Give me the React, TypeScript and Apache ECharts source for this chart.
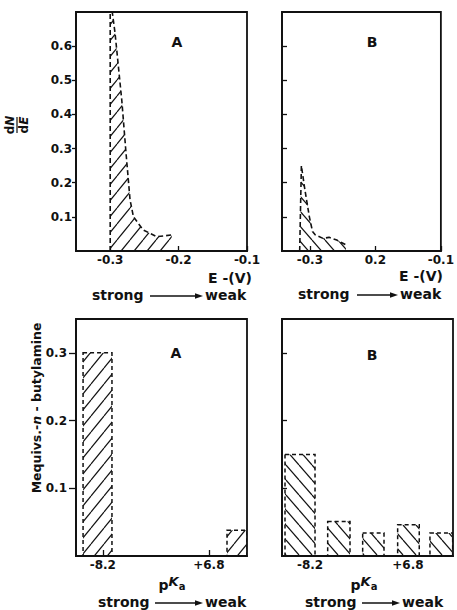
import React, { useEffect, useRef } from 'react';
import * as echarts from 'echarts';

// ---- Top panels: dN/dE versus E (V) ----
const topAE = [-0.3, -0.3, -0.297, -0.293, -0.288, -0.283, -0.277, -0.271, -0.266, -0.252, -0.232, -0.21];
const topAV = [0, 0.7, 0.7, 0.64, 0.54, 0.44, 0.29, 0.15, 0.1, 0.062, 0.042, 0.047];
const topBE = [-0.3156, -0.313, -0.3077, -0.3008, -0.296, -0.2916, -0.28, -0.2707, -0.259, -0.245];
const topBV = [0, 0.25, 0.18, 0.1, 0.057, 0.047, 0.037, 0.04, 0.032, 0.018];

const topXTicks = [-0.3, -0.2, -0.1];
const topATickLabels = ['-0.3', '-0.2', '-0.1'];
const topBTickLabels = ['-0.3', '0.2', '-0.1'];
const topYTicks = [0.1, 0.2, 0.3, 0.4, 0.5, 0.6];
const topYLabels = ['0.1', '0.2', '0.3', '0.4', '0.5', '0.6'];

// ---- Bottom panels: Mequivs n-butylamine versus pKa ----
const botABinStart = [-11.0, 9.37];
const botABinEnd = [-6.91, 12.2];
const botAValues = [0.3, 0.038];
const botBBinStart = [-12.04, -5.5, -0.14, 5.22, 10.17];
const botBBinEnd = [-7.44, -2.08, 3.13, 8.53, 13.65];
const botBValues = [0.15, 0.051, 0.034, 0.046, 0.034];

const botXTicks = [-8.2, 6.8];
const botXLabels = ['-8.2', '+6.8'];
const botYTicks = [0.1, 0.2, 0.3];
const botYLabels = ['0.1', '0.2', '0.3'];

const FONT = '"DejaVu Sans", sans-serif';
const INK = '#111';

function hatch(dir: number, w: number, h: number) {
  const c = document.createElement('canvas');
  c.width = w;
  c.height = h;
  const ctx = c.getContext('2d') as CanvasRenderingContext2D;
  ctx.strokeStyle = INK;
  ctx.lineWidth = 1.2;
  for (const off of [-w, 0, w]) {
    ctx.beginPath();
    if (dir > 0) {
      ctx.moveTo(off, h);
      ctx.lineTo(off + w, 0);
    } else {
      ctx.moveTo(off, 0);
      ctx.lineTo(off + w, h);
    }
    ctx.stroke();
  }
  return { image: c.toDataURL(), repeat: 'repeat', imageWidth: w, imageHeight: h } as any;
}

function lookup(ticks: number[], labels: string[]) {
  return (v: number) => {
    const i = ticks.findIndex((t) => Math.abs(t - v) < 1e-6);
    return i >= 0 ? labels[i] : '';
  };
}

const axisLine = { show: true, onZero: false, lineStyle: { color: INK, width: 1.8 } };

export default function App() {
  const ref = useRef<HTMLDivElement>(null);

  useEffect(() => {
    if (!ref.current) return;
    const chart = echarts.init(ref.current, undefined, { renderer: 'svg' });
    const fwd = hatch(1, 13, 16);
    const back = hatch(-1, 13, 15);

    const grids = [
      { left: 76, top: 12, width: 171, height: 239 },
      { left: 282, top: 12, width: 171, height: 239 },
      { left: 76, top: 319, width: 171, height: 237 },
      { left: 282, top: 319, width: 171, height: 237 },
    ].map((g) => ({ ...g, show: true, borderColor: INK, borderWidth: 1.8, backgroundColor: 'transparent' }));

    const labelStyle = { color: INK, fontSize: 12, fontWeight: 'bold', fontFamily: FONT };
    const tickLine = { color: INK, width: 1.3 };

    const xAxis = [
      {
        type: 'value', gridIndex: 0, min: -0.35, max: -0.1,
        splitLine: { show: false }, axisLine,
        axisTick: { show: true, inside: true, length: 5, customValues: topXTicks, lineStyle: tickLine },
        axisLabel: { ...labelStyle, margin: 3, customValues: topXTicks, formatter: lookup(topXTicks, topATickLabels) },
      },
      {
        type: 'value', gridIndex: 1, min: -0.3426, max: -0.1,
        splitLine: { show: false }, axisLine,
        axisTick: { show: true, inside: true, length: 5, customValues: topXTicks, lineStyle: tickLine },
        axisLabel: { ...labelStyle, margin: 3, customValues: topXTicks, formatter: lookup(topXTicks, topBTickLabels) },
      },
      {
        type: 'value', gridIndex: 2, min: -12, max: 12.2,
        splitLine: { show: false }, axisLine,
        axisTick: { show: true, inside: true, length: 6, customValues: botXTicks, lineStyle: tickLine },
        axisLabel: { ...labelStyle, margin: 3, customValues: botXTicks, formatter: lookup(botXTicks, botXLabels) },
      },
      {
        type: 'value', gridIndex: 3, min: -12.5, max: 13.7,
        splitLine: { show: false }, axisLine,
        axisTick: { show: false },
        axisLabel: { ...labelStyle, margin: 3, customValues: botXTicks, formatter: lookup(botXTicks, botXLabels) },
      },
    ];

    const yAxis = [
      {
        type: 'value', gridIndex: 0, min: 0, max: 0.7, interval: 0.1,
        splitLine: { show: false }, axisLine,
        axisTick: { show: true, inside: false, length: 4, customValues: topYTicks, lineStyle: tickLine },
        axisLabel: { ...labelStyle, margin: 4, customValues: topYTicks, formatter: lookup(topYTicks, topYLabels) },
      },
      {
        type: 'value', gridIndex: 1, min: 0, max: 0.7, interval: 0.1,
        splitLine: { show: false }, axisLine,
        axisTick: { show: true, inside: true, length: 5, customValues: topYTicks, lineStyle: tickLine },
        axisLabel: { show: false },
      },
      {
        type: 'value', gridIndex: 2, min: 0, max: 0.35, interval: 0.1,
        splitLine: { show: false }, axisLine,
        axisTick: { show: true, inside: false, length: 7, customValues: botYTicks, lineStyle: tickLine },
        axisLabel: { ...labelStyle, margin: 9, customValues: botYTicks, formatter: lookup(botYTicks, botYLabels) },
      },
      {
        type: 'value', gridIndex: 3, min: 0, max: 0.35, interval: 0.1,
        splitLine: { show: false }, axisLine,
        axisTick: { show: true, inside: true, length: 5, customValues: botYTicks, lineStyle: tickLine },
        axisLabel: { show: false },
      },
    ];

    const dashed = { type: [5, 3], color: INK, width: 1.6 };

    const barSeries = (idx: number, s: number[], e: number[], v: number[], pattern: any) => ({
      type: 'custom',
      xAxisIndex: idx,
      yAxisIndex: idx,
      silent: true,
      clip: true,
      data: v.map((val, i) => [s[i], e[i], val]),
      encode: { x: [0, 1], y: 2 },
      renderItem: (params: any, api: any) => {
        const p0 = api.coord([api.value(0), api.value(2)]);
        const p1 = api.coord([api.value(1), 0]);
        return {
          type: 'rect',
          shape: { x: p0[0], y: p0[1], width: p1[0] - p0[0], height: p1[1] - p0[1] },
          style: { fill: pattern, stroke: INK, lineWidth: 1.5, lineDash: [4, 3] },
        };
      },
    });

    const series: any[] = [
      {
        type: 'line', xAxisIndex: 0, yAxisIndex: 0, silent: true,
        data: topAE.map((x, i) => [x, topAV[i]]),
        showSymbol: false, lineStyle: dashed,
        areaStyle: { color: fwd, opacity: 1 },
      },
      {
        type: 'line', xAxisIndex: 1, yAxisIndex: 1, silent: true,
        data: topBE.map((x, i) => [x, topBV[i]]),
        showSymbol: false, lineStyle: dashed,
        areaStyle: { color: back, opacity: 1 },
      },
      barSeries(2, botABinStart, botABinEnd, botAValues, fwd),
      barSeries(3, botBBinStart, botBBinEnd, botBValues, back),
    ];

    const txt = (text: string, x: number, y: number, size = 14, extra: any = {}) => ({
      type: 'text', x, y, silent: true,
      style: { text, fill: INK, font: `bold ${size}px ${FONT}`, align: 'center', verticalAlign: 'middle', ...extra },
    });

    const arrowRow = (xs: number, xa0: number, xa1: number, xw: number, y: number) => [
      txt('strong', xs, y, 14, { align: 'left' }),
      { type: 'line', silent: true, shape: { x1: xa0, y1: y + 1, x2: xa1 - 5, y2: y + 1 }, style: { stroke: INK, lineWidth: 1.4 } },
      { type: 'polygon', silent: true, shape: { points: [[xa1 - 8, y - 1.8], [xa1, y + 1], [xa1 - 8, y + 3.8]] }, style: { fill: INK } },
      txt('weak', xw, y, 14, { align: 'left' }),
    ];

    const pka = (x: number, y: number) => ({
      type: 'text', x, y, silent: true,
      style: {
        text: '{p|p}{k|K}{a|a}', align: 'center', verticalAlign: 'middle', fill: INK,
        rich: {
          p: { fontSize: 14, fontWeight: 'bold', fontFamily: FONT, fill: INK, padding: [4, 0, 0, 0] },
          k: { fontSize: 13, fontWeight: 'bold', fontFamily: FONT, fontStyle: 'italic', fill: INK, padding: [0, 0, 4, 0] },
          a: { fontSize: 10, fontWeight: 'bold', fontFamily: FONT, fill: INK, padding: [6, 0, 0, 0] },
        },
      },
    });

    const frac = (t: string) => ({
      r: { fontSize: 12, fontWeight: 'bold', fontFamily: FONT, fill: INK },
      i: { fontSize: 12, fontWeight: 'bold', fontFamily: FONT, fontStyle: 'italic', fill: INK },
    });

    const graphic: any[] = [
      txt('A', 177, 42, 14),
      txt('B', 372, 42, 14),
      txt('A', 176, 353, 14),
      txt('B', 372, 355, 14),
      txt('E -(V)', 230, 278, 14),
      txt('E -(V)', 421, 276, 14),
      ...arrowRow(92, 150, 203, 205, 295),
      ...arrowRow(298, 357, 398, 400, 294),
      ...arrowRow(98, 155, 203, 205, 602),
      ...arrowRow(305, 362, 400, 402, 602),
      pka(172, 583),
      pka(364, 583),
      {
        type: 'group', x: 17, y: 125, rotation: Math.PI / 2, silent: true,
        children: [
          {
            type: 'text', x: 0, y: -1,
            style: { text: '{r|d}{i|N}', align: 'center', verticalAlign: 'bottom', fill: INK, rich: frac('n') },
          },
          { type: 'line', shape: { x1: -8, y1: 0, x2: 8, y2: 0 }, style: { stroke: INK, lineWidth: 1.2 } },
          {
            type: 'text', x: 0, y: 1,
            style: { text: '{r|d}{i|E}', align: 'center', verticalAlign: 'top', fill: INK, rich: frac('d') },
          },
        ],
      },
      {
        type: 'text', x: 36, y: 408, rotation: Math.PI / 2, silent: true,
        style: {
          text: '{r|Mequivs.-}{i|n}{r| - butylamine}', align: 'center', verticalAlign: 'middle', fill: INK,
          rich: {
            r: { fontSize: 12.5, fontWeight: 'bold', fontFamily: FONT, fill: INK },
            i: { fontSize: 12.5, fontWeight: 'bold', fontFamily: FONT, fontStyle: 'italic', fill: INK },
          },
        },
      },
    ];

    chart.setOption({
      animation: false,
      backgroundColor: '#fff',
      grid: grids,
      xAxis,
      yAxis,
      series,
      graphic,
    } as any);

    return () => chart.dispose();
  }, []);

  return <div ref={ref} style={{ position: 'fixed', left: 0, top: 0, width: 457, height: 610 }} />;
}
